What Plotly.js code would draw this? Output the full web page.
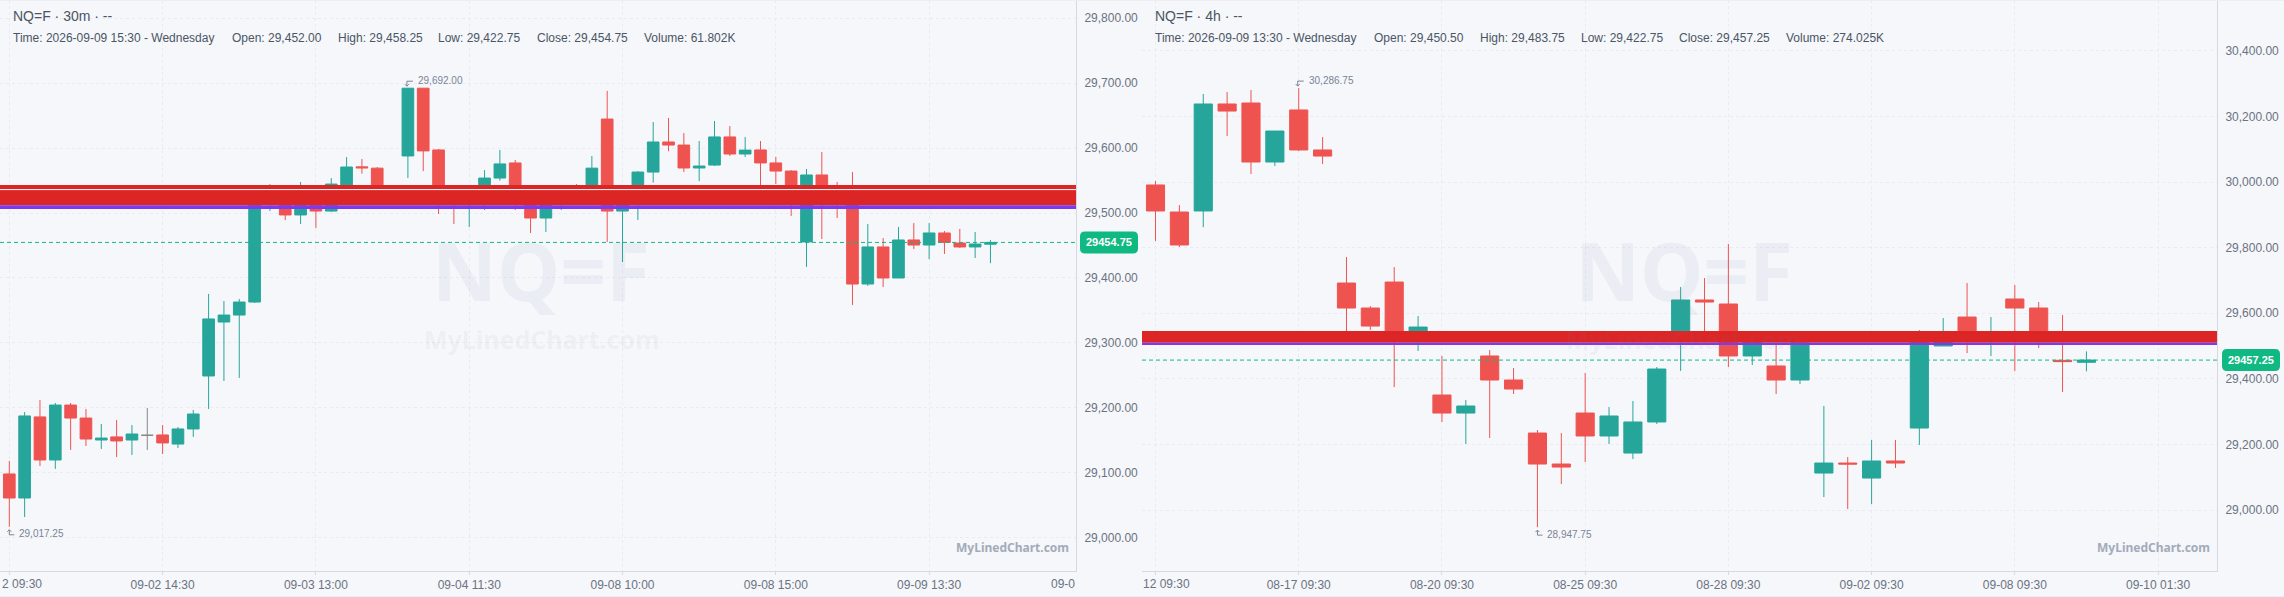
<!DOCTYPE html>
<html>
<head>
<meta charset="utf-8">
<script src="https://cdn.plot.ly/plotly-3.0.1.min.js"></script>
<style>
html, body { margin: 0; padding: 0; background: #f5f7fb; overflow: hidden; }
#chart { width: 2284px; height: 597px; }
</style>
</head>
<body>
<div id="chart"></div>
<script>
// 30m chart, left
var leftOpen = [29098.5,29061.5,29186.25,29120,29204.5,29184.5,29150.75,29155.5,29150.75,29158,29158.5,29144.5,29167.75,29249.25,29332.25,29343,29363,29525,29538,29497,29530,29503,29543,29571,29569,29537,29587.75,29692,29597,29530,29515,29520,29553.75,29577,29520,29492.25,29520,29537.5,29526,29644.5,29503,29525,29563,29609.25,29604.5,29569.25,29573.75,29617,29590.75,29597,29577,29564.5,29455.5,29558.5,29525,29515,29390.75,29447.75,29400,29458.5,29450.75,29469.25,29453.75,29447.75,29452];
var leftHigh = [29118.5,29193.75,29212.25,29207.75,29207.75,29198.5,29175.5,29181.5,29173.75,29200,29173.75,29170.75,29197,29375.5,29364.5,29367.75,29537,29544.5,29540,29547.75,29540,29553.75,29586,29583,29570.75,29537,29692,29692,29598.5,29537,29535,29566,29597,29581.5,29535,29535,29540,29544.5,29587.75,29687.75,29532,29564.5,29640,29646.25,29623,29610.75,29641.5,29633.75,29617,29610.75,29586.25,29566,29567.75,29593.75,29547.75,29563,29483,29461.5,29478.5,29484.5,29484.5,29472.25,29475.5,29470.75,29458.25];
var leftLow = [29017.25,29032.25,29110.75,29106.25,29135.5,29141.5,29137,29124.5,29127.75,29135.5,29129.25,29138.5,29155.5,29198.5,29241.5,29246.25,29361.5,29503,29489,29483,29477,29501.5,29538,29560.5,29533,29520,29553.75,29564.5,29498.5,29483,29478.5,29504.5,29549.75,29504.5,29469.25,29470.75,29504.5,29515,29520,29455.5,29424.5,29489.25,29546.75,29595,29563,29549,29572.25,29587.75,29586.25,29535,29544.5,29495.5,29417,29460,29492.25,29358.5,29387.75,29386,29400,29444.5,29429,29437,29446.25,29430.75,29422.75];
var leftClose = [29061.5,29187.75,29120,29204.5,29184.5,29152.25,29153.75,29149.25,29160,29158,29146.25,29167.75,29190.75,29337,29343,29363,29525,29538,29497,29530,29503,29544.5,29570.75,29569.5,29537,29528,29692,29595.5,29520,29520,29530,29553.75,29575.5,29520,29492.25,29520,29537.5,29526,29569,29503,29525,29563,29609.25,29604.5,29569.25,29572.25,29617,29590.75,29596.75,29577,29564.5,29525,29558.5,29525,29515,29390.75,29447.75,29400,29458.5,29450.75,29469.25,29454.75,29447.75,29452.25,29454.75];
var leftFlat = [9];
var leftTickVals = [0,10,20,30,40,50,60];
var leftTickText = ['','09-02 14:30','09-03 13:00','09-04 11:30','09-08 10:00','09-08 15:00','09-09 13:30'];
var leftExtremes = {high: 29692.00, highAt: 26, low: 29017.25, lowAt: 0};
var leftLast = 29454.75;

// 4h chart, right
var rightOpen = [29991.25,29908.75,29912,30238.25,30241.25,30061.25,30220,30098,29692.25,29616,29695.25,29520,29350.75,29295.75,29469.75,29396.5,29234.75,29140.25,29295.75,29225.75,29173.75,29268.5,29520,29640.5,29628.25,29469.75,29439.25,29396.5,29112.75,29143.25,29097.5,29149.5,29250,29500.25,29588.5,29515,29643.5,29616,29456.5,29450.5];
var rightHigh = [30003.5,29930,30268.75,30274.75,30281,30155.75,30286.75,30137.5,29771.5,29622,29741,29591.5,29469.75,29335.5,29488,29433,29244,29234.75,29417.75,29314,29332.5,29436,29680,29707.5,29811.25,29535,29510,29525,29317.25,29161.5,29213.5,29213.5,29549,29585.5,29692.25,29588.5,29686.25,29634.25,29594.75,29483.75];
var rightLow = [29820.5,29802,29862.5,30140.5,30024.75,30049,30094.75,30055,29545,29549,29375,29485,29268.5,29201.25,29219.5,29353.75,28947.75,29079.25,29146.5,29201.25,29155.5,29262.25,29424,29540,29436,29442.25,29353.75,29384.25,29039.5,29003,29018.25,29128,29198.25,29500.25,29478.75,29469.75,29423.75,29494,29360,29422.75];
var rightClose = [29912,29808.25,30238.25,30216.75,30061.25,30155.75,30098,30079.5,29616,29561,29520,29558,29295.75,29317.25,29396.5,29369,29140.25,29131,29225.75,29286.75,29268.5,29430,29640.5,29634.25,29469.75,29520,29396.5,29510,29143.25,29140.25,29149.5,29143.25,29540,29540,29530,29535,29616,29520,29452.5,29457.25];
var rightTickVals = [0,6,12,18,24,30,36,42];
var rightTickText = ['','08-17 09:30','08-20 09:30','08-25 09:30','08-28 09:30','09-02 09:30','09-08 09:30','09-10 01:30'];
var rightExtremes = {high: 30286.75, highAt: 6, low: 28947.75, lowAt: 16};
var rightLast = 29457.25;

// zones: [bottom, top]
var leftRedZone = [29512, 29543];
var leftPurpleZone = [29506, 29512];
var leftWhiteLevel = 29536;
var rightRedZone = [29510, 29546];
var rightPurpleZone = [29503, 29510];

var UP = '#26a69a', DOWN = '#ef5350', FLAT = '#888888';
var W = 2284, H = 597, BOTTOM = 571;
var FONT = '"Liberation Sans", Arial, sans-serif';
var MARK_FONT = '"Noto Sans", sans-serif';

function px(x) { return x / W; }
function py(y) { return 1 - y / BOTTOM; }

function pick(arr, idx) { return idx.map(function(i) { return arr[i]; }); }

function candleTraces(o, h, l, c, flat, xa, ya) {
    var all = [], flatIdx = flat || [];
    for (var i = 0; i < o.length; i++) {
        if (flatIdx.indexOf(i) < 0) all.push(i);
    }
    var traces = [{
        type: 'candlestick', x: all, open: pick(o, all), high: pick(h, all), low: pick(l, all), close: pick(c, all),
        xaxis: xa, yaxis: ya, hoverinfo: 'skip', showlegend: false,
        increasing: {line: {color: UP, width: 1}, fillcolor: UP},
        decreasing: {line: {color: DOWN, width: 1}, fillcolor: DOWN}
    }];
    if (flatIdx.length) {
        traces.push({
            type: 'candlestick', x: flatIdx, open: pick(o, flatIdx), high: pick(h, flatIdx), low: pick(l, flatIdx), close: pick(c, flatIdx),
            xaxis: xa, yaxis: ya, hoverinfo: 'skip', showlegend: false,
            increasing: {line: {color: FLAT, width: 1}, fillcolor: FLAT},
            decreasing: {line: {color: FLAT, width: 1}, fillcolor: FLAT}
        });
    }
    return traces;
}

var plotlyData = candleTraces(leftOpen, leftHigh, leftLow, leftClose, leftFlat, 'x', 'y')
    .concat(candleTraces(rightOpen, rightHigh, rightLow, rightClose, [], 'x2', 'y2'));

function zone(range, color, xa, ya) {
    return {type: 'rect', xref: xa + ' domain', yref: ya, x0: 0, x1: 1, y0: range[0], y1: range[1],
        fillcolor: color, line: {width: 0}};
}

function lastLine(value, xa, ya) {
    return {type: 'line', xref: xa + ' domain', yref: ya, x0: 0, x1: 1, y0: value, y1: value,
        line: {color: '#10b981', width: 1, dash: '4px,3px'}};
}

// rounded price badge, anchored on the last price
function badge(value, left, ya) {
    return {type: 'path', xref: 'paper', yref: ya, xsizemode: 'pixel', ysizemode: 'pixel',
        xanchor: px(left), yanchor: value, fillcolor: '#10b981', line: {width: 0},
        path: 'M 5 11 L 53 11 Q 58 11 58 6 L 58 -6 Q 58 -11 53 -11 L 5 -11 Q 0 -11 0 -6 L 0 6 Q 0 11 5 11 Z'};
}

function elbow(at, value, xa, ya, up) {
    var d = up ? 'M 5 -8 L 0 -8 L 0 -3 M -2 -5 L 0 -3 L 2 -5' : 'M 5 7 L -1 7 L -1 2 M -3 4 L -1 2 L 1 4';
    return {type: 'path', xref: xa, yref: ya, xsizemode: 'pixel', ysizemode: 'pixel',
        xanchor: at, yanchor: value, path: d, line: {color: '#7b8494', width: 1}};
}

var shapes = [
    zone(leftRedZone, '#dc2626', 'x', 'y'),
    zone(leftPurpleZone, '#7c3aed', 'x', 'y'),
    {type: 'line', xref: 'x domain', yref: 'y', x0: 0, x1: 1, y0: leftWhiteLevel, y1: leftWhiteLevel, line: {color: '#ffffff', width: 1}},
    zone(rightRedZone, '#dc2626', 'x2', 'y2'),
    zone(rightPurpleZone, '#7c3aed', 'x2', 'y2'),
    lastLine(leftLast, 'x', 'y'),
    lastLine(rightLast, 'x2', 'y2'),
    badge(leftLast, 1080, 'y'),
    badge(rightLast, 2222, 'y2'),
    elbow(leftExtremes.highAt, leftExtremes.high, 'x', 'y', false),
    elbow(leftExtremes.lowAt, leftExtremes.low, 'x', 'y', true),
    elbow(rightExtremes.highAt, rightExtremes.high, 'x2', 'y2', false),
    elbow(rightExtremes.lowAt, rightExtremes.low, 'x2', 'y2', true),
    // faint page edges
    {type: 'line', xref: 'paper', yref: 'paper', x0: 0, x1: 1, y0: py(0.5), y1: py(0.5), line: {color: '#eceef4', width: 1}},
    {type: 'line', xref: 'paper', yref: 'paper', x0: 0, x1: 1, y0: py(596.5), y1: py(596.5), line: {color: '#eceef4', width: 1}}
];

function pageText(text, x, y, size, color, extra) {
    var a = {xref: 'paper', yref: 'paper', x: px(x), y: py(y), text: text, showarrow: false,
        xanchor: 'left', yanchor: 'middle', borderpad: 0,
        font: {family: FONT, size: size, color: color}};
    for (var k in extra) { a[k] = extra[k]; }
    return a;
}

function header(items, title, xs) {
    var out = [pageText(title, xs[0], 16, 14, '#4b5563')];
    for (var i = 0; i < items.length; i++) {
        out.push(pageText(items[i], xs[i], 38, 12, '#4b5563'));
    }
    return out;
}

function priceText(value) {
    return value.toLocaleString('en-US', {minimumFractionDigits: 2, maximumFractionDigits: 2});
}

function extremeText(value, at, xa, ya, up) {
    return {xref: xa, yref: ya, x: at, y: value, text: priceText(value), showarrow: false,
        xanchor: 'left', yanchor: 'middle', xshift: 9, yshift: up ? -7 : 8, borderpad: 0,
        font: {family: FONT, size: 10, color: '#7b8494'}};
}

var wmBig = {family: MARK_FONT, size: 80, color: 'rgba(120,130,150,0.08)', weight: 700};
var wmMid = {family: MARK_FONT, size: 25, color: 'rgba(120,130,150,0.08)', weight: 700};
var wmSmall = {family: MARK_FONT, size: 12, color: '#a3abba', weight: 700};

var annotations = []
    .concat(header(
        ['Time: 2026-09-09 15:30 - Wednesday', 'Open: 29,452.00', 'High: 29,458.25', 'Low: 29,422.75', 'Close: 29,454.75', 'Volume: 61.802K'],
        'NQ=F · 30m · --', [12, 231, 337, 437.5, 536, 643]))
    .concat(header(
        ['Time: 2026-09-09 13:30 - Wednesday', 'Open: 29,450.50', 'High: 29,483.75', 'Low: 29,422.75', 'Close: 29,457.25', 'Volume: 274.025K'],
        'NQ=F · 4h · --', [1154, 1373, 1478.5, 1579.5, 1678, 1785]))
    .concat([
        pageText('NQ=F', 541, 269, 80, '', {xanchor: 'center', font: wmBig}),
        pageText('NQ=F', 1684, 269, 80, '', {xanchor: 'center', font: wmBig}),
        pageText('MyLinedChart.com', 542, 339, 25, '', {xanchor: 'center', font: wmMid}),
        pageText('MyLinedChart.com', 1684, 339, 25, '', {xanchor: 'center', font: wmMid}),
        pageText('MyLinedChart.com', 1070, 547, 12, '', {xanchor: 'right', font: wmSmall}),
        pageText('MyLinedChart.com', 2211, 547, 12, '', {xanchor: 'right', font: wmSmall}),
        {xref: 'paper', yref: 'y', x: px(1109), y: leftLast, text: '<b>29454.75</b>', showarrow: false, xanchor: 'center', yanchor: 'middle', font: {family: FONT, size: 11, color: '#ffffff'}},
        {xref: 'paper', yref: 'y2', x: px(2251), y: rightLast, text: '<b>29457.25</b>', showarrow: false, xanchor: 'center', yanchor: 'middle', font: {family: FONT, size: 11, color: '#ffffff'}},
        extremeText(leftExtremes.high, leftExtremes.highAt, 'x', 'y', false),
        extremeText(leftExtremes.low, leftExtremes.lowAt, 'x', 'y', true),
        extremeText(rightExtremes.high, rightExtremes.highAt, 'x2', 'y2', false),
        extremeText(rightExtremes.low, rightExtremes.lowAt, 'x2', 'y2', true),
        // the labels cut off by the pane edges
        pageText('2 09:30', 1, 584.5, 12, '#6b7280', {y: -12.8 / BOTTOM}),
        pageText('09-0', 1076, 584.5, 12, '#6b7280', {xanchor: 'right', y: -12.8 / BOTTOM}),
        pageText('12 09:30', 1142, 584.5, 12, '#6b7280', {y: -12.8 / BOTTOM})
    ]);

function xAxis(domain, range, vals, text, anchor) {
    return {
        type: 'linear', domain: domain, range: range, anchor: anchor, fixedrange: true,
        tickmode: 'array', tickvals: vals, ticktext: text, tickangle: 0, ticklabeloverflow: 'allow',
        ticks: 'outside', ticklen: 3, tickcolor: '#d5d9e4', tickwidth: 1,
        showline: true, linecolor: '#d5d9e4', linewidth: 1,
        showgrid: true, gridcolor: '#e8ebf2', griddash: '3px,3px', gridwidth: 1, zeroline: false,
        tickfont: {family: FONT, size: 12, color: '#6b7280'},
        rangeslider: {visible: false}
    };
}

function yAxis(range, dtick, anchor) {
    return {
        type: 'linear', range: range, domain: [0, 1], anchor: anchor, side: 'right', fixedrange: true,
        tick0: 29000, dtick: dtick, tickformat: ',.2f',
        ticks: 'outside', ticklen: 5, tickcolor: 'rgba(0,0,0,0)', tickwidth: 1,
        showline: true, linecolor: '#d5d9e4', linewidth: 1,
        showgrid: true, gridcolor: '#e8ebf2', griddash: '3px,3px', gridwidth: 1, zeroline: false,
        tickfont: {family: FONT, size: 12, color: '#6b7280'}
    };
}

var plotlyLayout = {
    width: W, height: H,
    margin: {l: 0, r: 0, t: 0, b: H - BOTTOM, pad: 0, autoexpand: false},
    paper_bgcolor: '#f5f7fb', plot_bgcolor: '#f5f7fb',
    showlegend: false, hovermode: false, dragmode: false,
    boxmode: 'overlay', boxgap: 0.24, boxgroupgap: 0,
    xaxis: xAxis([0, px(1076)], [-0.607, 69.58], leftTickVals, leftTickText, 'y'),
    yaxis: yAxis([28949.2, 29827.7], 100, 'x'),
    xaxis2: xAxis([px(1142), px(2217)], [-0.566, 44.47], rightTickVals, rightTickText, 'y2'),
    yaxis2: yAxis([28814, 30555.4], 200, 'x2'),
    shapes: shapes,
    annotations: annotations
};

Plotly.newPlot('chart', plotlyData, plotlyLayout, {displayModeBar: false, staticPlot: true});
</script>
</body>
</html>
